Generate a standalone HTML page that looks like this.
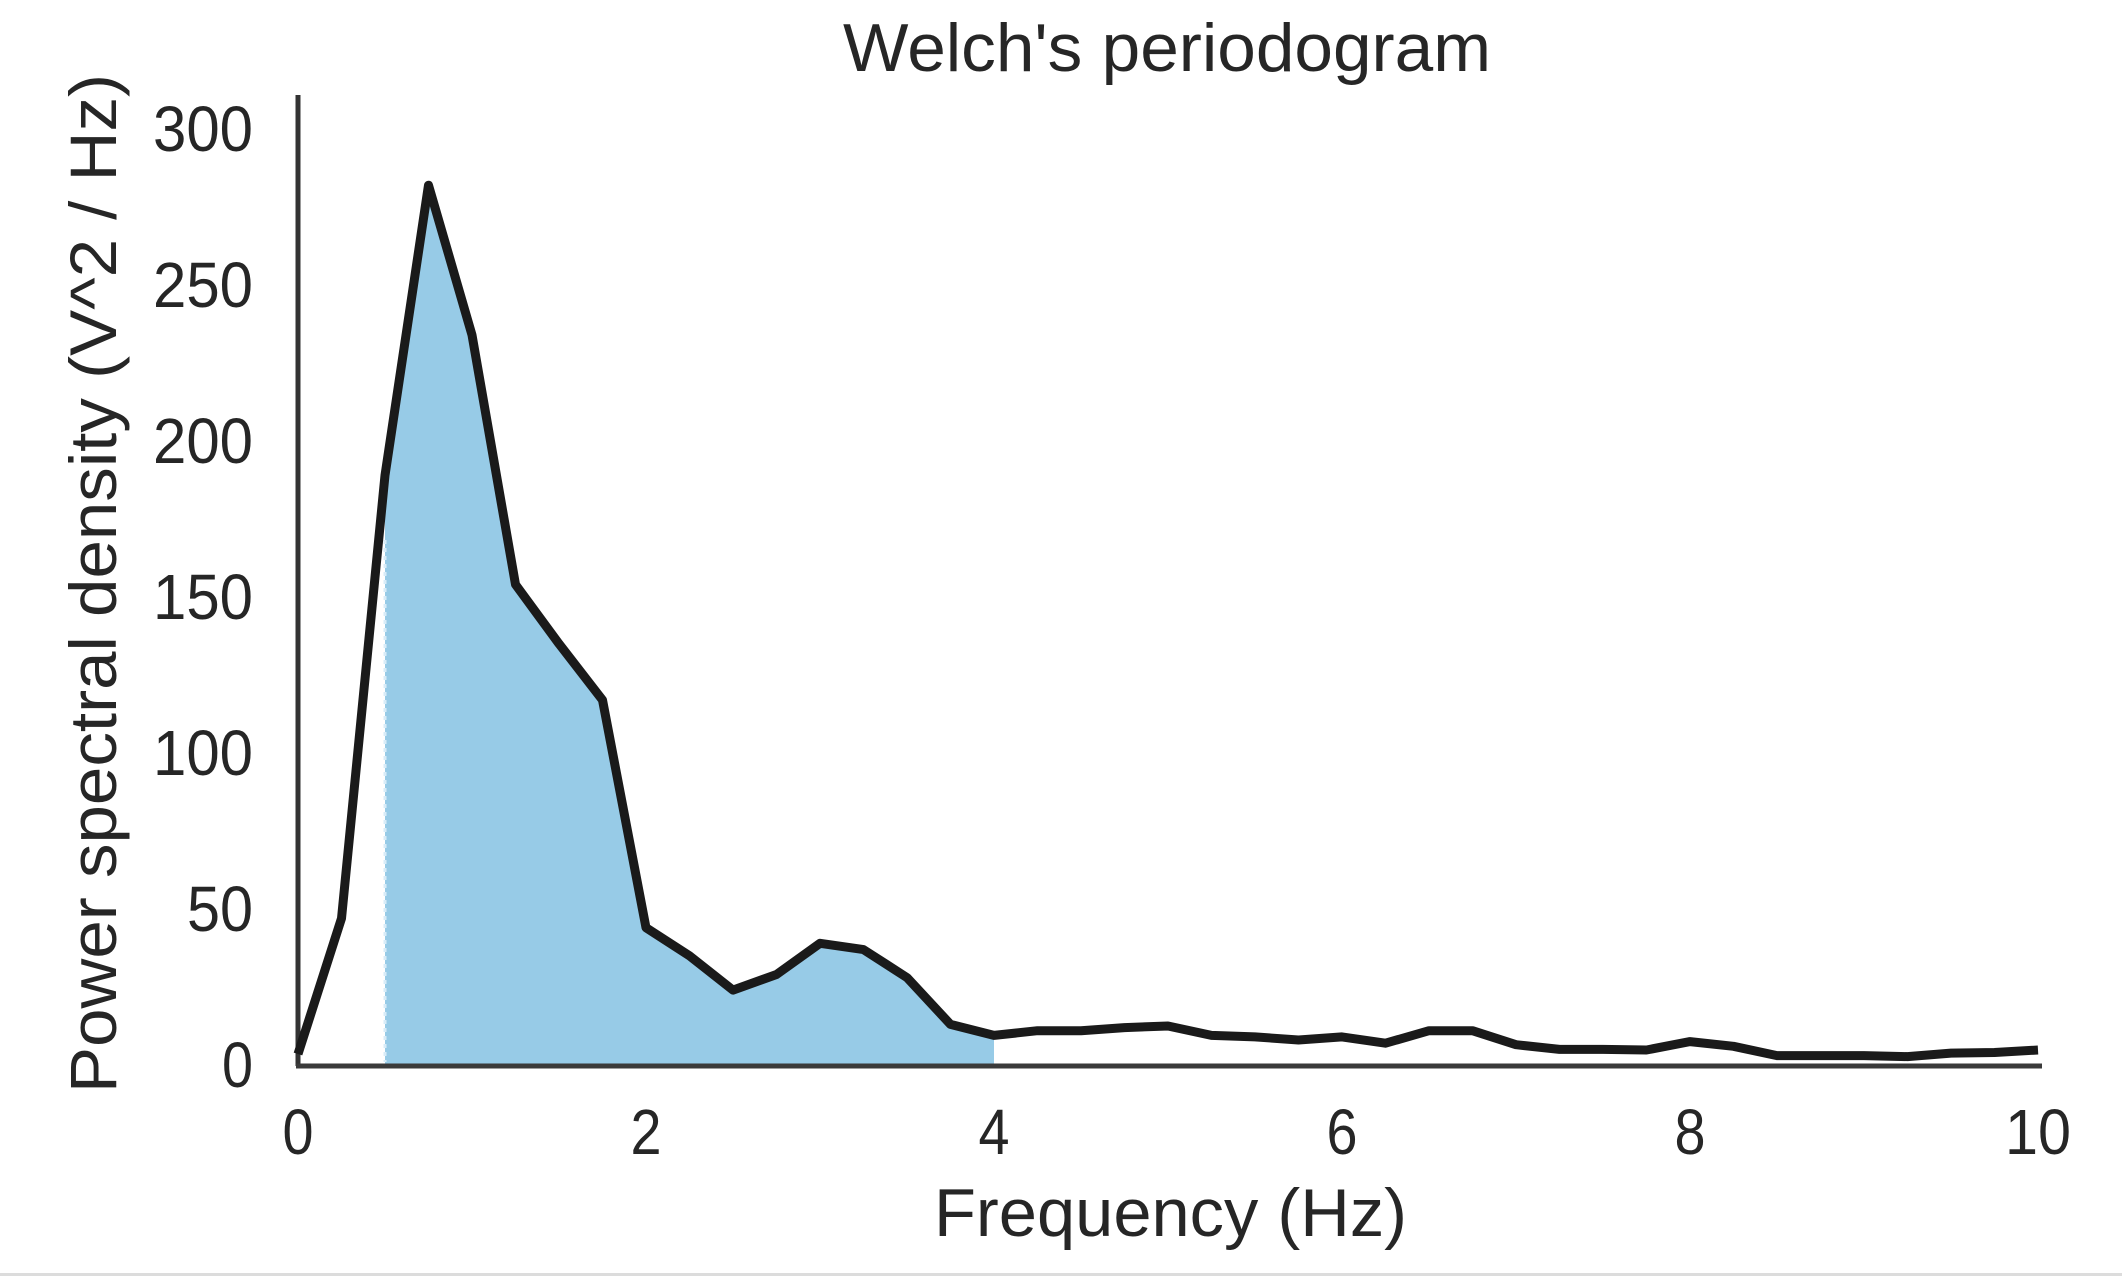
<!DOCTYPE html>
<html><head><meta charset="utf-8"><style>
html,body{margin:0;padding:0;background:#fff;}
svg{display:block;}
text{font-family:"Liberation Sans",Arial,sans-serif;fill:#262626;}
</style></head><body>
<svg width="2122" height="1276" viewBox="0 0 2122 1276" xmlns="http://www.w3.org/2000/svg">
<rect x="0" y="0" width="2122" height="1276" fill="#fff"/>
<rect x="0" y="1273" width="2122" height="3" fill="#dcdcdc"/>
<polygon fill="#97cbe7" points="385,1065 385,475.3 428.5,185.2 472,335 515.5,584.5 559,643.8 602.5,700 646,927.7 689.5,955.8 733,990.1 776.5,974.5 820,943.3 863.5,949.6 907,977.6 950.5,1024.4 994,1035.4 994,1065"/>
<line x1="385" y1="540" x2="385" y2="1062" stroke="#d8ecf8" stroke-width="3" stroke-dasharray="4,4"/>
<line x1="298" y1="95" x2="298" y2="1066" stroke="#333" stroke-width="5"/>
<line x1="296" y1="1066" x2="2042" y2="1066" stroke="#3a3a3a" stroke-width="5"/>
<polyline fill="none" stroke="#1a1a1a" stroke-width="9" stroke-linejoin="round" points="298,1054 341.5,918.4 385,475.3 428.5,185.2 472,335 515.5,584.5 559,643.8 602.5,700 646,927.7 689.5,955.8 733,990.1 776.5,974.5 820,943.3 863.5,949.6 907,977.6 950.5,1024.4 994,1035.4 1037.5,1030.7 1081,1030.7 1124.5,1027.6 1168,1026 1211.5,1035.4 1255,1036.9 1298.5,1040 1342,1036.9 1385.5,1043.2 1429,1030.7 1472.5,1030.7 1516,1044.7 1559.5,1049.4 1603,1049.4 1646.5,1050 1690,1041.6 1733.5,1046.3 1777,1055.6 1820.5,1055.6 1864,1055.6 1907.5,1056.6 1951,1053.1 1994.5,1052.5 2038,1050"/>
<g font-size="64" text-anchor="end">
<text x="253" y="1087" textLength="31" lengthAdjust="spacingAndGlyphs">0</text>
<text x="253" y="931" textLength="66" lengthAdjust="spacingAndGlyphs">50</text>
<text x="253" y="775" textLength="100" lengthAdjust="spacingAndGlyphs">100</text>
<text x="253" y="619" textLength="100" lengthAdjust="spacingAndGlyphs">150</text>
<text x="253" y="463" textLength="100" lengthAdjust="spacingAndGlyphs">200</text>
<text x="253" y="307" textLength="100" lengthAdjust="spacingAndGlyphs">250</text>
<text x="253" y="151" textLength="100" lengthAdjust="spacingAndGlyphs">300</text>
</g>
<g font-size="64" text-anchor="middle">
<text x="298" y="1154" textLength="31" lengthAdjust="spacingAndGlyphs">0</text>
<text x="646" y="1154" textLength="31" lengthAdjust="spacingAndGlyphs">2</text>
<text x="994" y="1154" textLength="31" lengthAdjust="spacingAndGlyphs">4</text>
<text x="1342" y="1154" textLength="31" lengthAdjust="spacingAndGlyphs">6</text>
<text x="1690" y="1154" textLength="31" lengthAdjust="spacingAndGlyphs">8</text>
<text x="2038" y="1154" textLength="66" lengthAdjust="spacingAndGlyphs">10</text>
</g>
<text x="843" y="71" font-size="68" textLength="648" lengthAdjust="spacingAndGlyphs">Welch's periodogram</text>
<text x="934" y="1236" font-size="68" textLength="473" lengthAdjust="spacingAndGlyphs">Frequency (Hz)</text>
<text transform="translate(116,1093) rotate(-90)" x="0" y="0" font-size="66" textLength="1019" lengthAdjust="spacingAndGlyphs">Power spectral density (V^2 / Hz)</text>
</svg>
</body></html>
